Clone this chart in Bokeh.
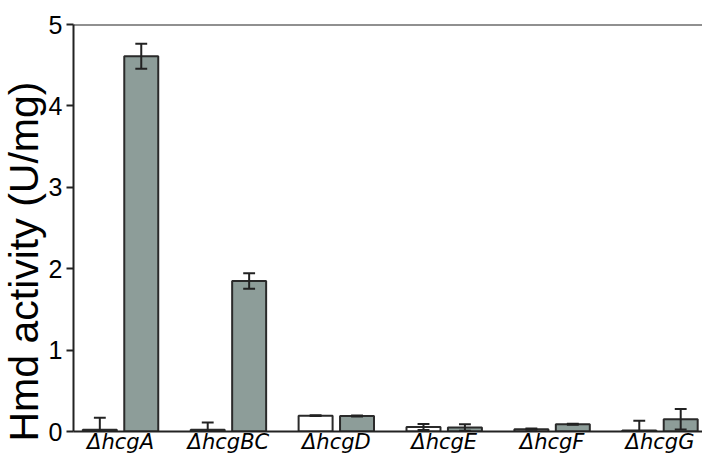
import numpy as np
from bokeh.plotting import figure
from bokeh.models import FixedTicker, Span, ColumnDataSource, Title
from bokeh.embed import file_html
from bokeh.resources import INLINE

categories = ["\u0394hcgA", "\u0394hcgBC", "\u0394hcgD", "\u0394hcgE", "\u0394hcgF", "\u0394hcgG"]
white_vals = [0.02, 0.02, 0.195, 0.055, 0.028, 0.012]
white_err = [0.15, 0.09, 0.006, 0.037, 0.008, 0.12]
gray_vals = [4.61, 1.85, 0.19, 0.05, 0.089, 0.15]
gray_err = [0.155, 0.095, 0.006, 0.04, 0.006, 0.125]
y_ticks = [0, 1, 2, 3, 4, 5]
y_title = "Hmd activity (U/mg)"

pos = np.arange(len(categories), dtype=float)
off = 0.192
bw = 0.315
cap = 0.055

p = figure(width=702, height=456, output_backend="svg", toolbar_location=None,
           x_range=(-0.436, 5.394), y_range=(0, 5),
           min_border_top=24, min_border_right=0, min_border_left=0, min_border_bottom=0)
p.outline_line_color = None
p.grid.grid_line_color = None
p.background_fill_color = "white"

line_col = "#222222"

for vals, errs, color, sign in [(white_vals, white_err, "white", -1), (gray_vals, gray_err, "#8d9d99", 1)]:
    xs = pos + sign * off
    v = np.array(vals)
    e = np.array(errs)
    src = ColumnDataSource(dict(x=xs, top=v, lo=v - e, hi=v + e,
                                x0=xs - cap, x1=xs + cap))
    p.vbar(x="x", top="top", bottom=0, width=bw, source=src, fill_color=color,
           line_color="#2a2a2a", line_width=2)
    p.segment(x0="x", x1="x", y0="lo", y1="hi", source=src, line_color=line_col, line_width=2)
    p.segment(x0="x0", x1="x1", y0="hi", y1="hi", source=src, line_color=line_col, line_width=2)
    p.segment(x0="x0", x1="x1", y0="lo", y1="lo", source=src, line_color=line_col, line_width=2)

p.add_layout(Span(location=5, dimension="width", line_color=line_col, line_width=2))

# y axis title as a side title, aligned to the bottom of the frame
p.add_layout(Title(text=y_title, align="left", offset=-10, standoff=-3,
                   text_font="Liberation Sans", text_font_size="41px",
                   text_font_style="normal", text_color="black"), "left")

# y axis
ya = p.yaxis[0]
ya.ticker = FixedTicker(ticks=y_ticks)
ya.minor_tick_line_color = None
ya.major_tick_out = 7
ya.major_tick_in = 0
ya.major_tick_line_width = 2
ya.major_tick_line_color = line_col
ya.axis_line_width = 2
ya.axis_line_color = line_col
ya.major_label_text_font = "Liberation Sans"
ya.major_label_text_font_size = "25px"
ya.major_label_text_color = "black"
ya.major_label_standoff = 4

# x axis
xa = p.xaxis[0]
xa.ticker = FixedTicker(ticks=list(pos))
xa.major_label_overrides = {float(i): c for i, c in enumerate(categories)}
xa.minor_tick_line_color = None
xa.major_tick_line_color = None
xa.axis_line_width = 2
xa.axis_line_color = line_col
xa.major_label_text_font = "DejaVu Sans"
xa.major_label_text_font_style = "italic"
xa.major_label_text_font_size = "21px"
xa.major_label_text_color = "black"
xa.major_label_standoff = -8

open("out.html", "w").write(file_html(p, INLINE))
